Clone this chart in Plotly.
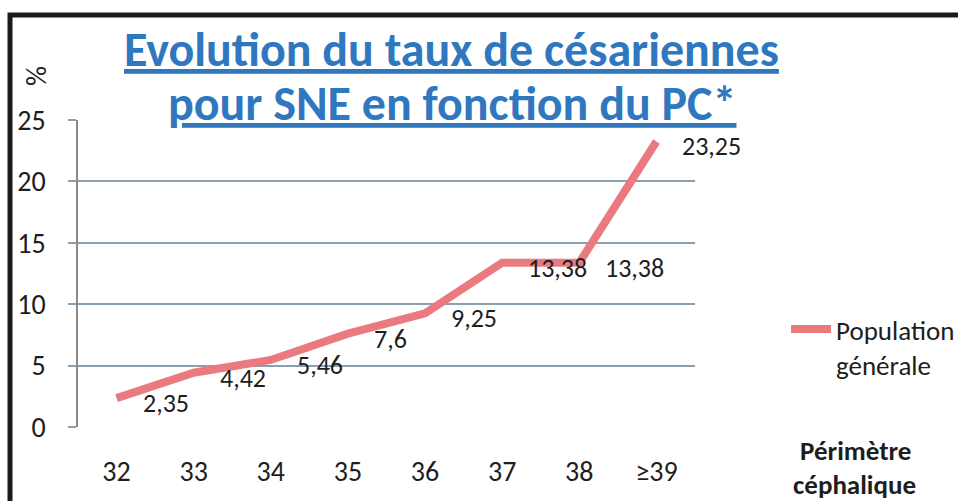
import plotly.graph_objects as go

categories = ["32", "33", "34", "35", "36", "37", "38", "≥39"]
taux = [2.35, 4.42, 5.46, 7.6, 9.25, 13.38, 13.38, 23.25]
y_ticks = [0, 5, 10, 15, 20, 25]
series_name = "Population<br>générale"
title_lines = ["Evolution du taux de césariennes", "pour SNE en fonction du PC*"]
x_title_lines = ["Périmètre", "céphalique"]
y_title = "%"

FONT = "Carlito, Lato, sans-serif"
TXT = "#1e1e1e"
BLUE = "#2f78c0"
LINE = "#ea7a80"
GRID = "#8aa0ae"

W, H = 958, 501
ML, MR, MT, MB = 78, 263, 120, 74
PW = W - ML - MR
PH = H - MT - MB

def px_x(p):
    return (p - ML) / PW

def px_y(p):
    return (H - MB - p) / PH

fig = go.Figure()
fig.add_trace(go.Scatter(
    x=categories, y=taux, mode="lines", name=series_name,
    line=dict(color=LINE, width=8),
    showlegend=True,
))

# data labels (x given as category index on the category axis)
for i, v in enumerate(taux):
    lab = ("%g" % v).replace(".", ",")
    fig.add_annotation(x=i, y=v, xref="x", yref="y", text=lab, showarrow=False,
                       xanchor="left", yanchor="middle", xshift=24, yshift=-5,
                       font=dict(family=FONT, size=26, color=TXT))

# titles
fig.add_annotation(x=px_x(451), y=px_y(50), xref="paper", yref="paper",
                   text="<u>%s</u>" % title_lines[0], showarrow=False,
                   xanchor="center", yanchor="middle",
                   font=dict(family=FONT, size=48, color=BLUE, weight="bold"))
fig.add_annotation(x=px_x(452), y=px_y(103), xref="paper", yref="paper",
                   text="<u>%s</u>" % title_lines[1], showarrow=False,
                   xanchor="center", yanchor="middle",
                   font=dict(family=FONT, size=48, color=BLUE, weight="bold"))

fig.add_annotation(x=px_x(855), y=px_y(450), xref="paper", yref="paper",
                   text=x_title_lines[0], showarrow=False,
                   xanchor="center", yanchor="middle",
                   font=dict(family=FONT, size=27, color=TXT, weight="bold"))
fig.add_annotation(x=px_x(854), y=px_y(484), xref="paper", yref="paper",
                   text=x_title_lines[1], showarrow=False,
                   xanchor="center", yanchor="middle",
                   font=dict(family=FONT, size=27, color=TXT, weight="bold"))

fig.add_annotation(x=px_x(37), y=px_y(76), xref="paper", yref="paper",
                   text=y_title, showarrow=False, textangle=-90,
                   xanchor="center", yanchor="middle",
                   font=dict(family=FONT, size=28, color=TXT))

# frame of the picture
fig.add_shape(type="rect", xref="paper", yref="paper",
              x0=px_x(10), x1=px_x(990), y0=px_y(540), y1=px_y(15),
              line=dict(color="#1a1a1a", width=5), layer="above")

fig.update_layout(
    width=W, height=H,
    margin=dict(l=ML, r=MR, t=MT, b=MB, autoexpand=False),
    paper_bgcolor="white", plot_bgcolor="white",
    font=dict(family=FONT, size=27, color=TXT),
    showlegend=True,
    legend=dict(x=px_x(786), y=px_y(305), xanchor="left", yanchor="top",
                xref="paper", yref="paper", valign="top",
                font=dict(family=FONT, size=27, color=TXT),
                bgcolor="rgba(0,0,0,0)", itemwidth=40),
    xaxis=dict(type="category", range=[-0.5, len(categories) - 0.5],
               showgrid=False, showline=False, zeroline=False,
               ticks="", tickfont=dict(family=FONT, size=28, color=TXT),
               ticklabelstandoff=25, fixedrange=True),
    yaxis=dict(range=[0, 25], tickvals=y_ticks, showgrid=True,
               gridcolor=GRID, gridwidth=1.5, zeroline=False,
               showline=True, linecolor="#8a8a8a", linewidth=1.5,
               ticks="outside", ticklen=8, tickcolor=GRID, tickwidth=1.5,
               tickfont=dict(family=FONT, size=28, color=TXT),
               ticklabelstandoff=17, fixedrange=True),
)

fig.write_html("out.html", config={"displayModeBar": False},
               post_script="document.body.style.margin='0';")
